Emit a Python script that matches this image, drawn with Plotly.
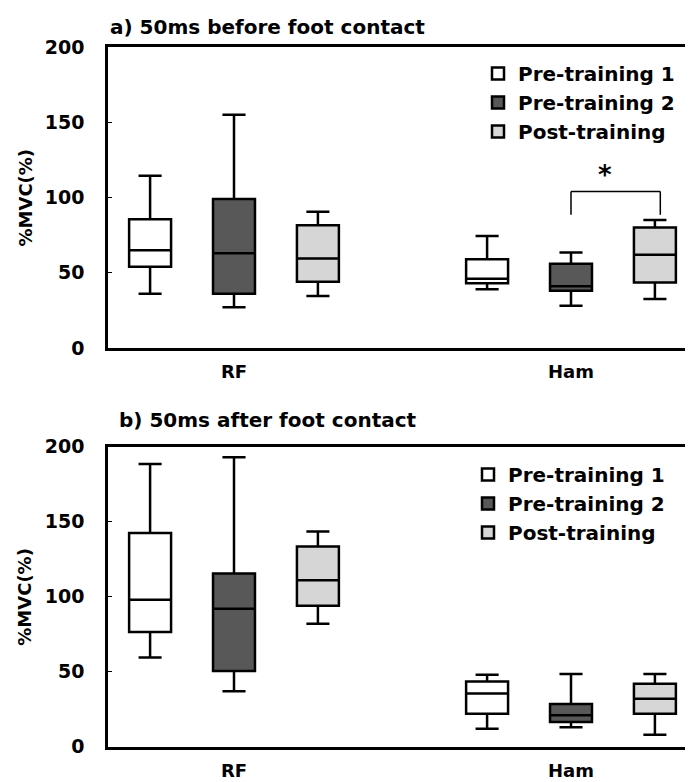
import plotly.graph_objects as go

# ---------------- data ----------------
categories = ["RF", "Ham"]
series_names = ["Pre-training 1", "Pre-training 2", "Post-training"]
series_fill = ["#ffffff", "#585858", "#d6d6d6"]

# a) 50ms before foot contact  (values per category: RF, Ham)
a_lower = [[36, 39], [27, 28], [34.5, 32.5]]
a_q1 = [[54, 43], [36, 38], [44, 43.5]]
a_median = [[65, 46], [63, 41], [59.5, 62]]
a_q3 = [[85.5, 59], [99, 56], [81.5, 80]]
a_upper = [[114.5, 74.5], [155, 63.5], [90.5, 85]]

# b) 50ms after foot contact
b_lower = [[59.5, 12], [37, 13], [82, 8]]
b_q1 = [[76.5, 22], [50.5, 16.5], [94, 22]]
b_median = [[98, 35.5], [92, 21], [111, 32]]
b_q3 = [[142.5, 43.5], [115.5, 28.5], [133.5, 42]]
b_upper = [[188.5, 48], [193, 48.5], [143.5, 48.5]]

y_ticks = [0, 50, 100, 150, 200]

# significance bracket (panel a): Ham Pre-training 2 vs Post-training
bracket_x = [1.0, 1.265]
bracket_y_top = 104
bracket_y_leg = 88.5
star_x = 1.1
star_y = 115

FONT = "DejaVu Sans"
OFF = 8            # browser default body margin
W, H = 693 - OFF, 782 - OFF
L = 108 - OFF      # left margin (axis line at 108 on screen)


def ypaper(px):
    """screen pixel y -> paper fraction"""
    return 1 - (px - OFF) / H


def xpaper(px):
    """screen pixel x -> paper fraction"""
    return (px - OFF - L) / (W - L)


fig = go.Figure()

panels = [
    ("x", "y", "legend", a_lower, a_q1, a_median, a_q3, a_upper),
    ("x2", "y2", "legend2", b_lower, b_q1, b_median, b_q3, b_upper),
]
for xa, ya, lg, lo, q1, md, q3, up in panels:
    for i, name in enumerate(series_names):
        fig.add_trace(go.Box(
            x=categories, q1=q1[i], median=md[i], q3=q3[i],
            lowerfence=lo[i], upperfence=up[i],
            name=name, fillcolor=series_fill[i], offsetgroup="g%d" % i,
            line=dict(color="black", width=2.5),
            whiskerwidth=0.55, boxpoints=False,
            xaxis=xa, yaxis=ya, legend=lg, showlegend=True,
        ))

top_dom = [ypaper(348), ypaper(47)]
bot_dom = [ypaper(746.7), ypaper(446.7)]

xrange_ = [-(234 - 108) / 337, -(234 - 108) / 337 + (693 - 108) / 337]

axis_font = dict(family=FONT, size=18, color="black", weight="bold")
common_x = dict(type="category", categoryorder="array", categoryarray=categories,
                range=xrange_, domain=[0, 1], showline=True, linecolor="black",
                linewidth=2.5, mirror=True, ticks="", showgrid=False, zeroline=False,
                tickfont=axis_font, ticklabelstandoff=6, automargin=False, fixedrange=True)
common_y = dict(range=[0, 200], tickvals=y_ticks, showline=True, linecolor="black",
                linewidth=2.5, mirror=False, ticks="inside", ticklen=4, tickcolor="black",
                showgrid=False, zeroline=False,
                tickfont=dict(family=FONT, size=19, color="black", weight="bold"),
                ticklabelstandoff=17, automargin=False, fixedrange=True)

legend_common = dict(font=dict(family=FONT, size=20, color="black", weight="bold"),
                     bgcolor="rgba(0,0,0,0)", borderwidth=0, xanchor="left", yanchor="top",
                     tracegroupgap=0, itemclick=False)

fig.update_layout(
    width=W, height=H,
    margin=dict(l=L, r=0, t=0, b=0),
    paper_bgcolor="white", plot_bgcolor="white",
    boxmode="group", boxgap=0.253, boxgroupgap=0.5,
    xaxis=dict(common_x, anchor="y"),
    yaxis=dict(common_y, domain=top_dom, anchor="x"),
    xaxis2=dict(common_x, anchor="y2"),
    yaxis2=dict(common_y, domain=bot_dom, anchor="x2"),
    legend=dict(legend_common, x=xpaper(478), y=ypaper(54)),
    legend2=dict(legend_common, x=xpaper(468), y=ypaper(455)),
)

# significance bracket
fig.add_shape(type="line", xref="x", yref="y", x0=bracket_x[0], x1=bracket_x[1],
              y0=bracket_y_top, y1=bracket_y_top, line=dict(color="black", width=1.5))
for bx in bracket_x:
    fig.add_shape(type="line", xref="x", yref="y", x0=bx, x1=bx,
                  y0=bracket_y_leg, y1=bracket_y_top, line=dict(color="black", width=1.5))
fig.add_annotation(x=star_x, y=star_y, xref="x", yref="y", text="*",
                   showarrow=False,
                   font=dict(family=FONT, size=26, color="black", weight="bold"),
                   xanchor="center", yanchor="middle")

# panel titles
title_font = dict(family=FONT, size=20, color="black", weight="bold")
fig.add_annotation(x=xpaper(108), y=ypaper(27), xref="paper", yref="paper", xanchor="left",
                   yanchor="middle", text="a) 50ms before foot contact",
                   showarrow=False, font=title_font)
fig.add_annotation(x=xpaper(117), y=ypaper(420), xref="paper", yref="paper",
                   xanchor="left", yanchor="middle", text="b) 50ms after foot contact",
                   showarrow=False, font=title_font)

# y-axis titles
for yc in (197.5, 596.7):
    fig.add_annotation(x=xpaper(25), y=ypaper(yc), xref="paper", yref="paper",
                       xanchor="center", yanchor="middle", text="%MVC(%)", textangle=-90,
                       showarrow=False,
                       font=dict(family=FONT, size=18, color="black", weight="bold"))

fig.write_html("out.html")
